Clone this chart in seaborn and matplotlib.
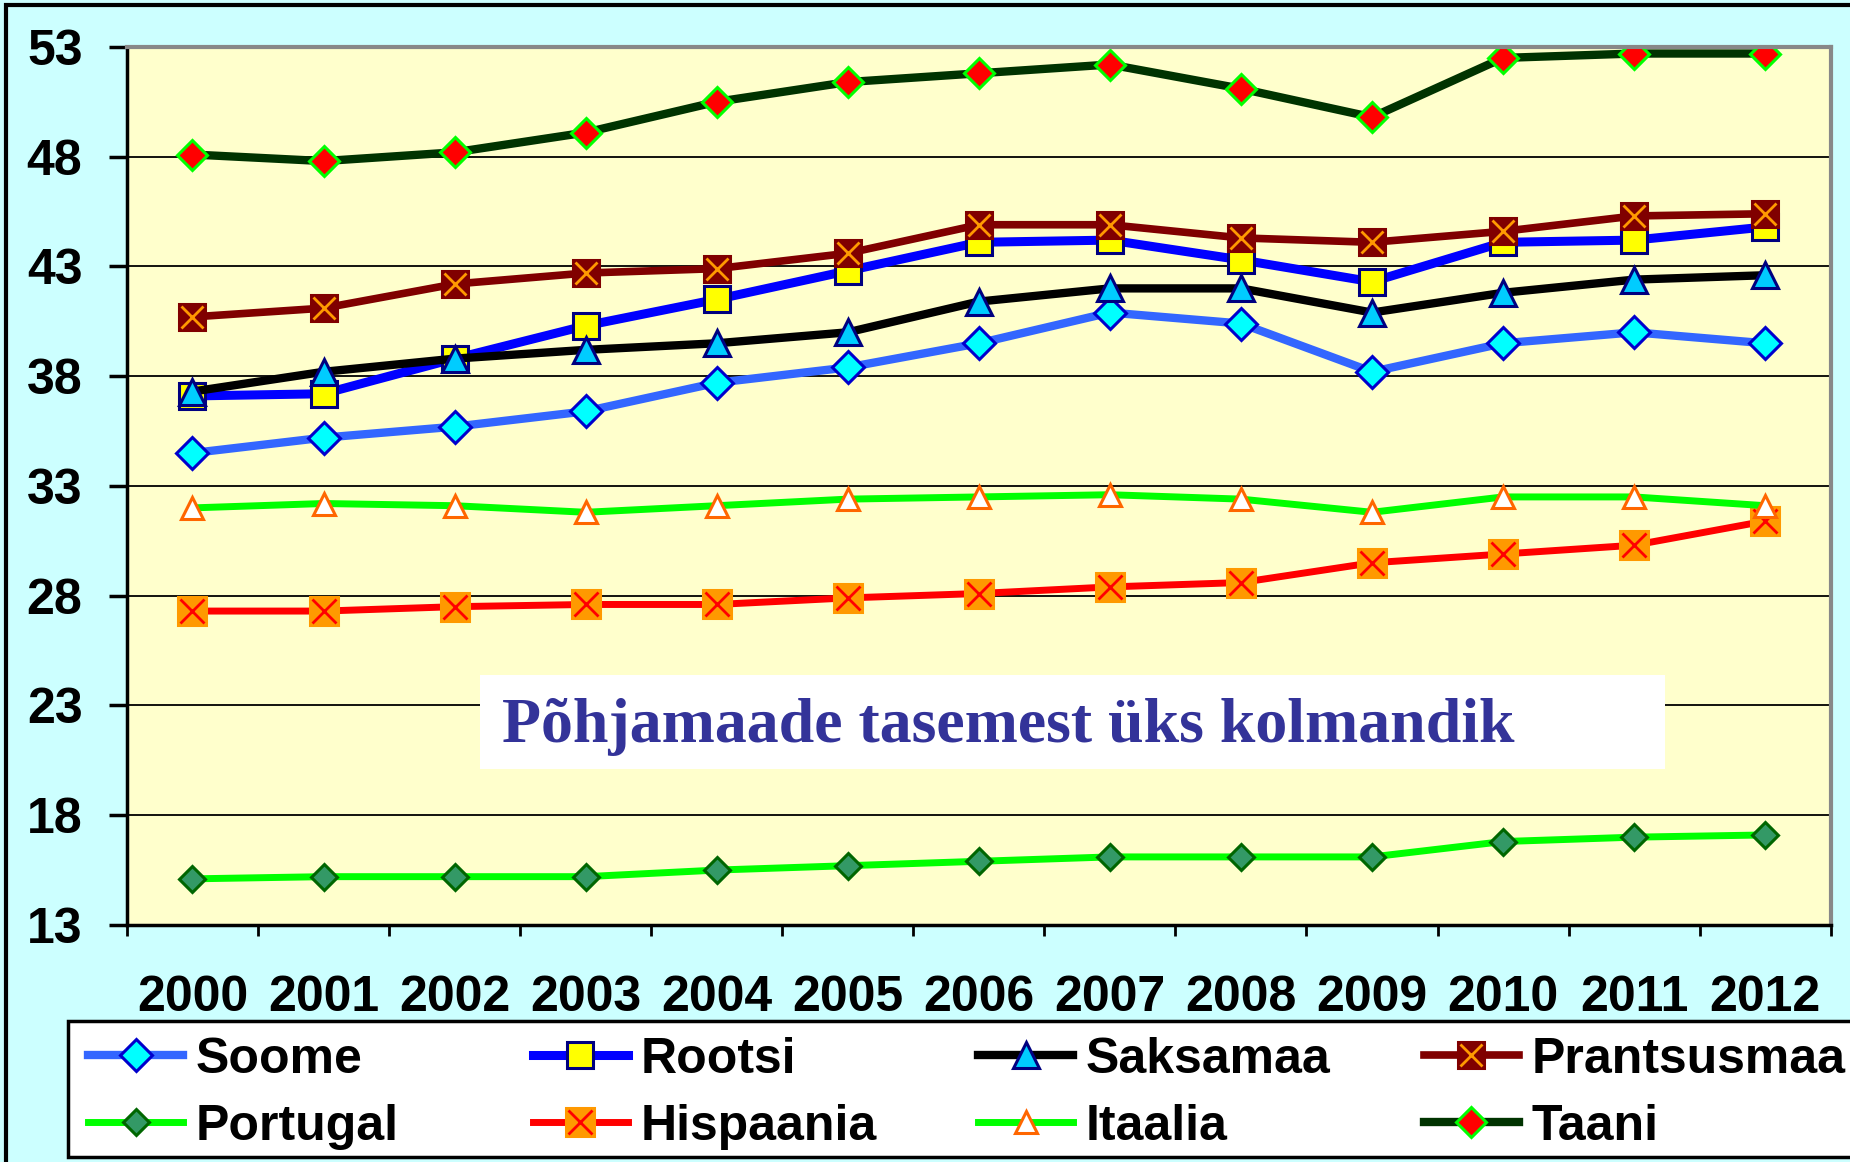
import numpy as np
import seaborn as sns
import matplotlib.pyplot as plt
from matplotlib.patches import Rectangle

# values
years = ['2000', '2001', '2002', '2003', '2004', '2005', '2006',
         '2007', '2008', '2009', '2010', '2011', '2012']
soome = [34.5, 35.2, 35.7, 36.4, 37.7, 38.4, 39.5, 40.9, 40.4, 38.2, 39.5, 40.0, 39.5]
rootsi = [37.1, 37.2, 38.8, 40.3, 41.5, 42.8, 44.1, 44.2, 43.3, 42.3, 44.1, 44.2, 44.8]
saksamaa = [37.3, 38.2, 38.8, 39.2, 39.5, 40.0, 41.4, 42.0, 42.0, 40.9, 41.8, 42.4, 42.6]
prantsusmaa = [40.7, 41.1, 42.2, 42.7, 42.9, 43.6, 44.9, 44.9, 44.3, 44.1, 44.6, 45.3, 45.4]
portugal = [15.1, 15.2, 15.2, 15.2, 15.5, 15.7, 15.9, 16.1, 16.1, 16.1, 16.8, 17.0, 17.1]
hispaania = [27.3, 27.3, 27.5, 27.6, 27.6, 27.9, 28.1, 28.4, 28.6, 29.5, 29.9, 30.3, 31.4]
itaalia = [32.0, 32.2, 32.1, 31.8, 32.1, 32.4, 32.5, 32.6, 32.4, 31.8, 32.5, 32.5, 32.1]
taani = [48.1, 47.8, 48.2, 49.1, 50.5, 51.4, 51.8, 52.2, 51.1, 49.8, 52.5, 52.7, 52.7]
y_ticks = [13, 18, 23, 28, 33, 38, 43, 48, 53]
note = 'Põhjamaade tasemest üks kolmandik'

plt.rcParams['font.family'] = ['Liberation Sans', 'DejaVu Sans']
plt.rcParams['font.weight'] = 'bold'

fig = plt.figure(figsize=(18.5, 11.62), dpi=100, facecolor='#CCFFFF')
ax = fig.add_axes([0.0686, 0.204, 0.921, 0.7556])
ax.set_facecolor('#FFFFCC')

x = np.arange(len(years))

# (label, values, line color, line width, marker, size, face, edge, overlay x color)
series = [
    ('Soome', soome, '#3366FF', 6, 'D', 16, '#00FFFF', '#0000CC', None),
    ('Rootsi', rootsi, '#0000FF', 6.5, 's', 19, '#FFFF00', '#000080', None),
    ('Saksamaa', saksamaa, '#000000', 6, '^', 19, '#00CCFF', '#000080', None),
    ('Prantsusmaa', prantsusmaa, '#800000', 5.5, 's', 19, '#800000', '#800000', '#FF9900'),
    ('Portugal', portugal, '#00FF00', 5, 'D', 13, '#339966', '#006600', None),
    ('Hispaania', hispaania, '#FF0000', 5, 's', 20, '#FF9900', '#FF9900', '#FF0000'),
    ('Itaalia', itaalia, '#00FF00', 5, '^', 16, '#FFFFFF', '#FF6600', None),
    ('Taani', taani, '#003300', 6, 'D', 15, '#FF0000', '#00FF00', None),
]

handles = {}
for label, vals, col, lw, mk, ms, fc, ec, xcol in series:
    sns.lineplot(x=x, y=vals, ax=ax, color=col, lw=lw, marker=mk, markersize=ms,
                 markerfacecolor=fc, markeredgecolor=ec, markeredgewidth=2.2)
    main = ax.lines[-1]
    if xcol is not None:
        sns.lineplot(x=x, y=vals, ax=ax, lw=0, marker='x', markersize=ms * 0.85,
                     markeredgecolor=xcol, markeredgewidth=2, color=xcol)
        handles[label] = (main, ax.lines[-1])
    else:
        handles[label] = main

# axes
ax.set_ylim(13, 53)
ax.set_xlim(-0.5, len(years) - 0.5)
ax.set_yticks(y_ticks)
ax.set_xticks(x, years)
ax.set_xticks(np.arange(len(years) + 1) - 0.5, minor=True)
ax.tick_params(axis='x', which='major', length=0, pad=36, labelsize=36)
ax.tick_params(axis='x', which='minor', length=8, width=2, direction='out')
ax.tick_params(axis='y', length=13, width=2.5, pad=19, labelsize=36)
for t in ax.get_xticklabels() + ax.get_yticklabels():
    t.set_fontweight('bold')
ax.grid(axis='y', color='black', lw=1.3)
ax.set_axisbelow(True)
ax.set_xlabel('')
ax.set_ylabel('')
for side in ['left', 'bottom']:
    ax.spines[side].set_color('black')
    ax.spines[side].set_linewidth(2.5)
for side in ['top', 'right']:
    ax.spines[side].set_color('#888888')
    ax.spines[side].set_linewidth(3)

# note box
ax.add_patch(Rectangle((0.207, 0.178), 0.696, 0.107, transform=ax.transAxes,
                       facecolor='white', edgecolor='none', zorder=5))
ax.text(0.517, 0.226, note, transform=ax.transAxes, ha='center', va='center',
        fontsize=46, fontweight='bold', color='#333399', zorder=6,
        family=['Liberation Serif', 'DejaVu Serif'])

# legend frame, cropped on the right
fig.patches.append(Rectangle((0.0368, 0.0043), 1.0, 0.117, transform=fig.transFigure,
                             facecolor='white', edgecolor='black', lw=2.5))

# legend: four columns at fixed places, two rows each
columns = [['Soome', 'Portugal'], ['Rootsi', 'Hispaania'],
           ['Saksamaa', 'Itaalia'], ['Prantsusmaa', 'Taani']]
col_x = [0.0478, 0.288, 0.5287, 0.7697]
for names, cx in zip(columns, col_x):
    leg = fig.legend([handles[k] for k in names], names, loc='upper left',
                     bbox_to_anchor=(cx, 0.108), prop={'size': 36, 'weight': 'bold'},
                     frameon=False, handlelength=1.9, handletextpad=0.25,
                     labelspacing=0.42, borderaxespad=0, borderpad=0)

# outer chart border, cropped on the right and bottom
fig.patches.append(Rectangle((0.003, -0.1), 1.2, 1.0957, transform=fig.transFigure,
                             facecolor='none', edgecolor='black', lw=3))

fig.savefig('out.png', dpi=100, facecolor=fig.get_facecolor())
